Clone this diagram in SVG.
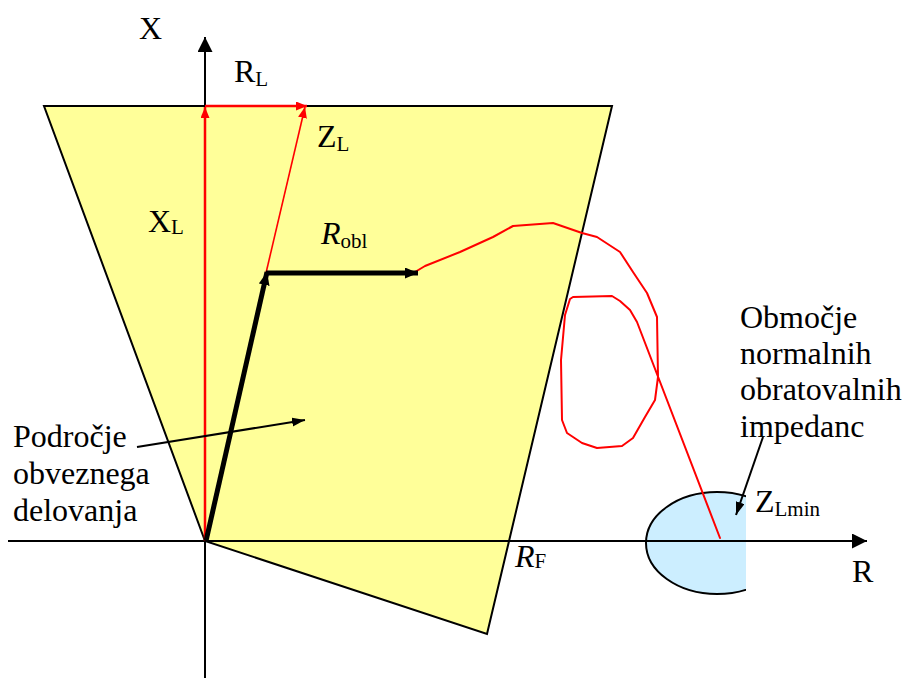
<svg xmlns="http://www.w3.org/2000/svg" width="905" height="678" viewBox="0 0 905 678">
<style>
.t{font-size:32px}
.s{font-size:21px}
.i{font-style:italic}
.ax{stroke:#000;stroke-width:2;fill:none}
.red{stroke:#ff0000;fill:none}
.blk{stroke:#000;fill:none}
</style>
<defs>
<marker id="axh" markerUnits="userSpaceOnUse" markerWidth="16" markerHeight="16" refX="15" refY="7.5" orient="auto"><path d="M0,0 L15,7.5 L0,15 Z" fill="#000"/></marker>
<marker id="rh" markerUnits="userSpaceOnUse" markerWidth="12" markerHeight="10" refX="11" refY="4.5" orient="auto"><path d="M0,0 L11,4.5 L0,9 Z" fill="#ff0000"/></marker>
<marker id="bh" markerUnits="userSpaceOnUse" markerWidth="14" markerHeight="12" refX="13" refY="5.5" orient="auto"><path d="M0,0 L13,5.5 L0,11 Z" fill="#000"/></marker>
<marker id="sh" markerUnits="userSpaceOnUse" markerWidth="14" markerHeight="10" refX="13" refY="4.5" orient="auto"><path d="M0,0 L13,4.5 L0,9 Z" fill="#000"/></marker>
<clipPath id="ec"><rect x="600" y="470" width="146" height="140"/></clipPath>
</defs>

<g id="region">
<polygon points="44,106 612,106 487,634 205,541" fill="#ffff99" stroke="#000" stroke-width="2" stroke-linejoin="miter"/>
</g>

<g id="normal-zone">
<ellipse cx="717" cy="543" rx="71" ry="51" fill="#cceeff" stroke="#000" stroke-width="2" clip-path="url(#ec)"/>
</g>

<g id="connectors">
<line class="ax" x1="205" y1="678" x2="205" y2="37" marker-end="url(#axh)"/>
<line class="ax" x1="8" y1="541" x2="867" y2="541" marker-end="url(#axh)"/>
<line class="red" stroke-width="2.5" x1="205" y1="541" x2="205" y2="107" marker-end="url(#rh)"/>
<line class="red" stroke-width="2.5" x1="205" y1="106" x2="307" y2="106" marker-end="url(#rh)"/>
<line class="red" stroke-width="1.6" x1="266" y1="273" x2="305" y2="107" marker-end="url(#rh)"/>
<polyline class="red" stroke-width="2" stroke-linejoin="round" stroke-linecap="round" points="415,272 425,266 460,252 493,237 513,226 553,223 582,233 597,237 620,252 633,272 647,293 657,317 658,377 655,400 645,417 633,438 622,446 597,448 582,443 567,433 562,420 561,360 565,315 570,299 573,297 612,296 620,301 630,310 637,322 720,538"/>
<line class="blk" stroke-width="5" x1="206" y1="541" x2="267" y2="272" marker-end="url(#bh)"/>
<line class="blk" stroke-width="5" x1="266" y1="273" x2="418" y2="273" marker-end="url(#bh)"/>
<line class="blk" stroke-width="2" x1="137" y1="447" x2="305" y2="420" marker-end="url(#sh)"/>
<line class="blk" stroke-width="2" x1="763" y1="437" x2="736" y2="515" marker-end="url(#sh)"/>
</g>

<g id="labels" font-family="'Liberation Serif', 'Times New Roman', Tinos, 'DejaVu Serif', serif" fill="#000">
<text class="t" x="139" y="39">X</text>
<text class="t" x="852" y="582">R</text>
<text class="t" x="234" y="82">R<tspan class="s" dy="4">L</tspan></text>
<text class="t" x="317" y="147">Z<tspan class="s" dy="4">L</tspan></text>
<text class="t" x="148" y="232">X<tspan class="s" dy="2">L</tspan></text>
<text class="t" x="321" y="244"><tspan class="i">R</tspan><tspan class="s" dy="4">obl</tspan></text>
<text class="t" x="515" y="567"><tspan class="i">R</tspan><tspan class="s" dy="1">F</tspan></text>
<text class="t" x="755" y="512">Z<tspan class="s" dy="4">Lmin</tspan></text>
<text class="t" x="13" y="447">Področje</text>
<text class="t" x="13" y="484">obveznega</text>
<text class="t" x="13" y="521">delovanja</text>
<text class="t" x="740" y="328">Območje</text>
<text class="t" x="740" y="364">normalnih</text>
<text class="t" x="740" y="400">obratovalnih</text>
<text class="t" x="740" y="437">impedanc</text>
</g>
</svg>
